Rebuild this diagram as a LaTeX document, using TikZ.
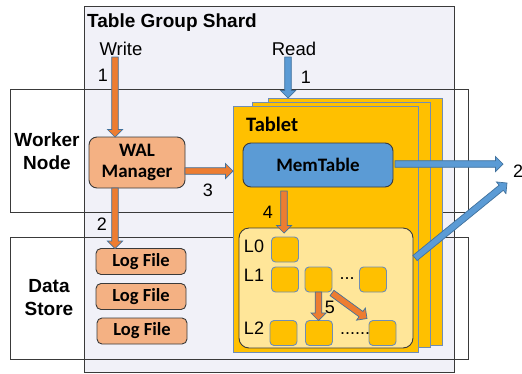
\documentclass[tikz,border=0pt]{standalone}
\usepackage{fontspec}
\setmainfont{Liberation Sans}
\newfontfamily\calib{Carlito}
\usetikzlibrary{calc}
\definecolor{shardfill}{HTML}{F1F1F8}
\definecolor{tabletfill}{HTML}{FFC000}
\definecolor{tabletline}{HTML}{6F8DB5}
\definecolor{memfill}{HTML}{5B9BD5}
\definecolor{walfill}{HTML}{F4B183}
\definecolor{sstfill}{HTML}{FFE699}
\definecolor{arrorange}{HTML}{ED7D31}
\definecolor{arrline}{HTML}{41719C}
\definecolor{boxline}{HTML}{3A3A3A}
\tikzset{
  sz/.style 2 args={minimum width=#1, minimum height=#2, inner sep=0pt, outer sep=0pt},
  frame/.style={draw=boxline, line width=0.9pt},
  tabletbox/.style={draw=tabletline, line width=0.9pt, fill=tabletfill},
  rbox/.style={draw=boxline, line width=0.9pt, rounded corners=8pt},
  sstbox/.style={draw=tabletline, line width=0.9pt, fill=tabletfill, rounded corners=4pt, sz={27pt}{25pt}},
  logf/.style={rbox, fill=walfill, rounded corners=5pt, sz={90pt}{26pt}, font=\calib\bfseries\fontsize{18.5}{20}\selectfont},
  lbl/.style={font=\fontsize{18}{20}\selectfont, inner sep=0pt},
  bold19/.style={font=\bfseries\fontsize{19}{23}\selectfont, align=center, inner sep=0pt},
  barrow/.style={line width=0.7pt, draw=arrline, to path={
    ($(\tikztostart)!3.3pt!90:(\tikztotarget)$)
    -- ($($(\tikztotarget)!7.5pt!(\tikztostart)$)!3.3pt!90:(\tikztotarget)$)
    -- ($($(\tikztotarget)!7.5pt!(\tikztostart)$)!7.5pt!90:(\tikztotarget)$)
    -- (\tikztotarget)
    -- ($($(\tikztotarget)!7.5pt!(\tikztostart)$)!7.5pt!-90:(\tikztotarget)$)
    -- ($($(\tikztotarget)!7.5pt!(\tikztostart)$)!3.3pt!-90:(\tikztotarget)$)
    -- ($(\tikztostart)!3.3pt!-90:(\tikztotarget)$) -- cycle}},
  oarrow/.style={barrow, fill=arrorange},
  blarrow/.style={barrow, fill=memfill},
}
\begin{document}
\begin{tikzpicture}[x=1pt,y=-1pt]
\useasboundingbox (0,0) rectangle (522,373);
% containers
\node[frame, fill=shardfill, sz={370pt}{366pt}] (shard) at (269,189) {};
\node[anchor=west, inner sep=0pt, font=\bfseries\fontsize{19}{22}\selectfont] (shardt) at (87,23) {Table Group Shard};
\node[frame, sz={458pt}{123pt}] (worker) at (239,150.5) {};
\node[frame, sz={458pt}{122pt}] (store) at (239,298) {};
\node[bold19] (workert) at (47,151) {Worker\\Node};
\node[bold19] (storet) at (49,298) {Data\\Store};
\node[lbl, font=\fontsize{18.5}{20}\selectfont] (write) at (121,49) {Write};
\node[lbl, font=\fontsize{18.5}{20}\selectfont] (read) at (294,49) {Read};
% tablets
\node[tabletbox, sz={174pt}{247pt}] (back) at (355,221.5) {};
\node[tabletbox, sz={178pt}{245pt}] (middle) at (341,224.5) {};
\node[tabletbox, sz={185pt}{246pt}] (front) at (325.5,229) {};
\node[anchor=west, inner sep=0pt, font=\calib\bfseries\fontsize{20.5}{22}\selectfont] (tablett) at (246,124) {Tablet};
\node[rbox, fill=memfill, sz={150pt}{44pt}, font=\calib\bfseries\fontsize{19}{21}\selectfont] (mem) at (318,165) {MemTable};
% WAL and logs
\node[rbox, fill=walfill, sz={96pt}{51pt}, align=center, font=\calib\bfseries\fontsize{19}{21}\selectfont] (wal) at (137,162.5) {WAL\\Manager};
\node[logf] (log1) at (141,261.5) {Log File};
\node[logf] (log2) at (141,296.5) {Log File};
\node[logf] (log3) at (142,331) {Log File};
% SST region
\node[frame, fill=sstfill, rounded corners=10pt, sz={174pt}{120pt}] (sst) at (326,288) {};
\node[sstbox] (l0a) at (285,249.5) {};
\node[sstbox] (l1a) at (285,279.5) {};
\node[sstbox] (l1b) at (318.5,279.5) {};
\node[sstbox] (l1c) at (373,279.5) {};
\node[sstbox] (l2a) at (283.5,333) {};
\node[sstbox] (l2b) at (319,333) {};
\node[sstbox] (l2c) at (382.5,333) {};
\node[lbl] (l0t) at (254,246) {L0};
\node[lbl] (l1t) at (254,275) {L1};
\node[lbl] (l2t) at (254,328) {L2};
\node[lbl, anchor=base] (dots1) at (347,279.5) {...};
\node[lbl, anchor=base] (dots2) at (355,334.5) {......};
% arrow end points
\coordinate (w1s) at (115,57);
\coordinate (w1e) at (w1s |- wal.north);
\coordinate (w2s) at (w1s |- wal.south);
\coordinate (w2e) at (w1s |- log1.north);
\coordinate (r1s) at (288,57);
\coordinate (r1e) at (r1s |- back.north);
\coordinate (a3s) at ([yshift=-8.5pt]wal.east);
\coordinate (a3e) at (a3s -| front.west);
\coordinate (a4s) at ($(l0a.north |- mem.south)+(-1,4)$);
\coordinate (a4e) at ($(l0a.north)+(-1,-4)$);
\coordinate (a5s) at (l1b.south);
\coordinate (a5e) at (l1b.south |- l2b.north);
\coordinate (a6s) at ($(l1b.south east)+(0,1)$);
\coordinate (a6e) at ($(l2c.north west)+(-2,-2)$);
\coordinate (b2s) at ($(mem.east)+(2,-1)$);
\coordinate (b2e) at ($(mem.east)+(110,-1)$);
\coordinate (d2s) at ($(sst.east)+(2,-30)$);
\coordinate (d2e) at (507,183);
% arrows
\draw[oarrow] (w1s) to (w1e);
\draw[oarrow] (w2s) to (w2e);
\draw[oarrow] (a3s) to (a3e);
\draw[blarrow] (r1s) to (r1e);
\draw[oarrow] (a4s) to (a4e);
\draw[oarrow] (a5s) to (a5e);
\draw[oarrow] (a6s) to (a6e);
\draw[blarrow] (b2s) to (b2e);
\draw[blarrow] (d2s) to (d2e);
% labels
\node[lbl] (n1w) at (103,75) {1};
\node[lbl] (n1r) at (306,77) {1};
\node[lbl] (n2w) at (102,224) {2};
\node[lbl] (n3) at (208,190) {3};
\node[lbl] (n4) at (268,212) {4};
\node[lbl] (n5) at (330,307) {5};
\node[lbl] (n2r) at (518,171) {2};
\end{tikzpicture}
\end{document}
